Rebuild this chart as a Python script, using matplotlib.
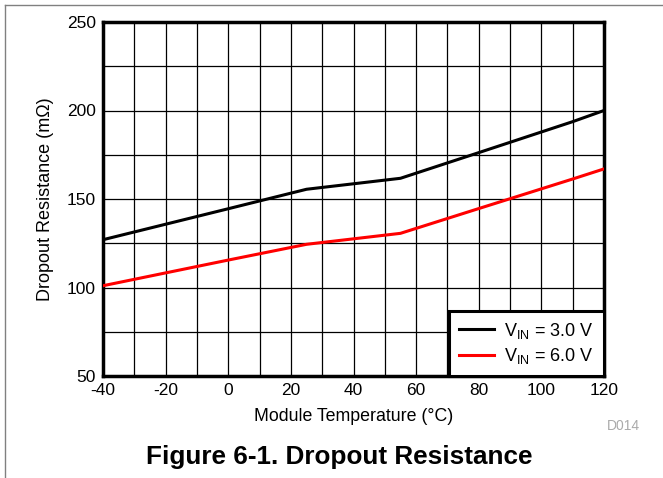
import matplotlib.pyplot as plt
from matplotlib.lines import Line2D

plt.rcParams['font.family'] = ['Liberation Sans', 'DejaVu Sans']
plt.rcParams['axes.unicode_minus'] = False

# curve data
temp = [-40, 0, 25, 55, 80, 110, 120]
r_3v0 = [127, 144.5, 155.5, 161.7, 176.2, 193.7, 200]
r_6v0 = [101, 115.5, 124.4, 130.6, 144.6, 161.3, 167]

x_ticks = [-40, -20, 0, 20, 40, 60, 80, 100, 120]
y_ticks = [50, 100, 150, 200, 250]

fig = plt.figure(figsize=(6.63, 4.78), dpi=100)
ax = fig.add_axes([103 / 663, 1 - 376 / 478, 501 / 663, 354 / 478])

ax.plot(temp, r_3v0, color='black', lw=2.2, label=r'V$_{\mathregular{IN}}$ = 3.0 V', zorder=3)
ax.plot(temp, r_6v0, color='red', lw=2.2, label=r'V$_{\mathregular{IN}}$ = 6.0 V', zorder=3)

ax.set_xlim(-40, 120)
ax.set_ylim(50, 250)
ax.set_xticks(x_ticks)
ax.set_yticks(y_ticks)
ax.set_xticks(range(-40, 121, 10), minor=True)
ax.set_yticks(range(50, 251, 25), minor=True)
ax.grid(True, which='both', color='black', lw=0.9)
ax.tick_params(which='both', length=0, labelsize=12.5, pad=5)

for s in ax.spines.values():
    s.set_linewidth(2.5)

ax.set_xlabel('Module Temperature (°C)', fontsize=12.8, labelpad=7)
ax.set_ylabel('Dropout Resistance (mΩ)', fontsize=13, labelpad=9)

leg = ax.legend(loc='lower right', borderaxespad=0, fontsize=13, fancybox=False,
                framealpha=1, edgecolor='black', handlelength=1.95,
                handletextpad=0.55, borderpad=0.55, labelspacing=0.3)
leg.get_frame().set_linewidth(2.2)
leg.set_zorder(5)

fig.text(623 / 663, 1 - 426 / 478, 'D014', fontsize=10, color='#aaaaaa', ha='center', va='center')
fig.text(339 / 663, 1 - 457 / 478, 'Figure 6-1. Dropout Resistance', fontsize=18.8,
         fontweight='bold', ha='center', va='center')

# thin grey frame on the left and top edges
fig.add_artist(Line2D([5 / 663, 5 / 663], [0, 1 - 5 / 478], color='#808080', lw=1))
fig.add_artist(Line2D([5 / 663, 1], [1 - 5 / 478, 1 - 5 / 478], color='#808080', lw=1))

fig.savefig('out.png', dpi=100)
